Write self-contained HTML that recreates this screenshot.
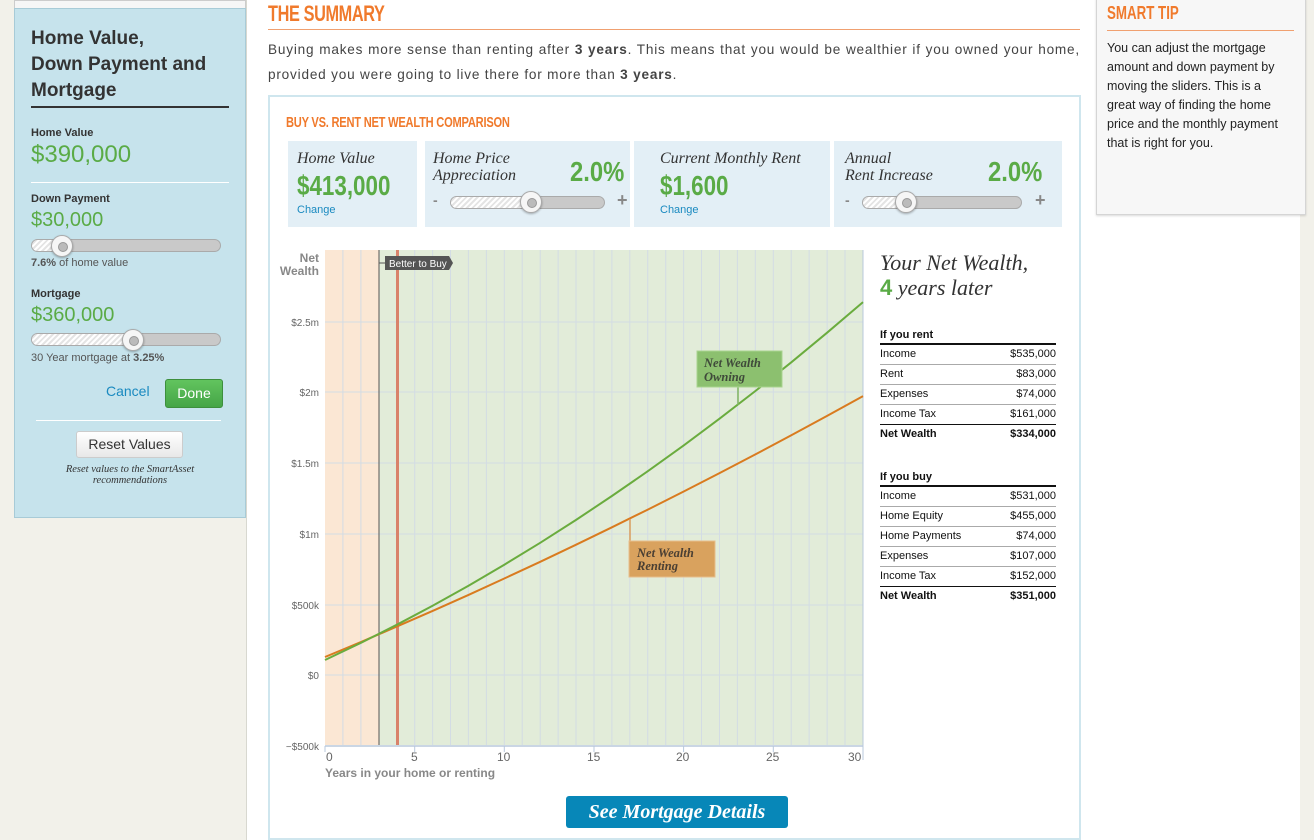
<!DOCTYPE html>
<html><head><meta charset="utf-8">
<style>
*{margin:0;padding:0;box-sizing:border-box}
body{width:1314px;height:840px;position:relative;background:#f2f1ea;font-family:"Liberation Sans",sans-serif;overflow:hidden;color:#333}
.a{position:absolute;white-space:nowrap}
.nar{transform-origin:0 0;transform:scaleX(0.74)}
.ser{font-family:"Liberation Serif",serif;font-style:italic}
.grn{color:#5aab46}
.lbl{font-size:11px;font-weight:bold;color:#333}
.slider{position:absolute;height:13px;border-radius:7px;background:#c9c9c9;border:1px solid #aaa;overflow:visible}
.hatch{position:absolute;left:0;top:0;bottom:0;border-radius:7px 0 0 7px;background:repeating-linear-gradient(135deg,#fff 0 2px,#e4e4e4 2px 4px)}
.knob{position:absolute;width:22px;height:22px;border-radius:50%;background:#f6f6f6;border:1px solid #aaa;top:-5px;box-shadow:0 1px 2px rgba(0,0,0,.3)}
.knob:after{content:"";position:absolute;left:6px;top:6px;width:8px;height:8px;border-radius:50%;background:#bbb;border:1px solid #999}
.card{position:absolute;top:141px;height:86px;background:#e3eff6}
.tbl{position:absolute;left:880px;width:176px;font-size:11px;color:#111}
.tbl .h{font-weight:bold;height:20px;line-height:20px;border-bottom:2px solid #111}
.tbl .r{height:20px;line-height:19px;border-bottom:1px solid #aaa;display:flex;justify-content:space-between}
.tbl .r.n{font-weight:bold;border-bottom:none;border-top:1px solid #111;margin-top:-1px}
</style></head><body>
<div class="a" style="left:246px;top:0;width:1054px;height:840px;background:#fff;border-left:1px solid #d8d8d0"></div>
<div class="a" style="left:14px;top:0;width:232px;height:8px;background:#f6f6f6;border:1px solid #ccc;border-bottom:none"></div>
<div class="a" style="left:14px;top:8px;width:232px;height:510px;background:#c6e3ec;border:1px solid #a8cbd7"></div>
<div class="a" style="left:31px;top:26px;font-size:19px;font-weight:bold;line-height:26px;color:#333">Home Value,<br>Down Payment and<br>Mortgage</div>
<div class="a" style="left:31px;top:106px;width:198px;height:2px;background:#333"></div>
<div class="a lbl" style="left:31px;top:127px">Home Value</div>
<div class="a grn" style="left:31px;top:141px;font-size:24px">$390,000</div>
<div class="a" style="left:31px;top:182px;width:198px;height:1px;background:#fff"></div>
<div class="a lbl" style="left:31px;top:193px">Down Payment</div>
<div class="a grn" style="left:31px;top:209px;font-size:20px">$30,000</div>
<div class="slider" style="left:31px;top:239px;width:190px"><div class="hatch" style="width:30px"></div><div class="knob" style="left:19px"></div></div>
<div class="a" style="left:31px;top:257px;font-size:11px;color:#555"><b>7.6%</b> of home value</div>
<div class="a lbl" style="left:31px;top:288px">Mortgage</div>
<div class="a grn" style="left:31px;top:304px;font-size:20px">$360,000</div>
<div class="slider" style="left:31px;top:333px;width:190px"><div class="hatch" style="width:100px"></div><div class="knob" style="left:90px"></div></div>
<div class="a" style="left:31px;top:352px;font-size:11px;color:#555">30 Year mortgage at <b>3.25%</b></div>
<div class="a" style="left:106px;top:383px;font-size:14px;color:#1a8ac0">Cancel</div>
<div class="a" style="left:165px;top:379px;width:58px;height:29px;background:linear-gradient(#62c45e,#45a547);border:1px solid #3d8f3d;border-radius:3px;color:#fff;font-size:14px;text-align:center;line-height:27px">Done</div>
<div class="a" style="left:36px;top:420px;width:185px;height:1px;background:#fff"></div>
<div class="a" style="left:76px;top:431px;width:107px;height:27px;background:linear-gradient(#fff,#e8e8e8);border:1px solid #ccc;border-radius:3px;font-size:14px;text-align:center;line-height:25px;color:#333">Reset Values</div>
<div class="a ser" style="left:30px;top:464px;width:200px;text-align:center;font-size:10.5px;line-height:11px;color:#333;white-space:normal">Reset values to the SmartAsset recommendations</div>

<div class="a nar" style="left:268px;top:1px;font-size:22px;font-weight:bold;color:#f07a2c;letter-spacing:-0.5px">THE SUMMARY</div>
<div class="a" style="left:268px;top:29px;width:812px;height:1px;background:#f0a070"></div>
<div class="a" style="left:268px;top:37px;width:812px;font-size:13.6px;letter-spacing:0.8px;line-height:25px;color:#444;white-space:normal;text-align:justify;text-align-last:left">Buying makes more sense than renting after <b>3 years</b>. This means that you would be wealthier if you owned your home, provided you were going to live there for more than <b>3 years</b>.</div>

<div class="a" style="left:268px;top:95px;width:813px;height:745px;border:2px solid #cfe6ee;background:#fff"></div>
<div class="a nar" style="left:286px;top:114px;font-size:15px;font-weight:bold;color:#f07a2c;letter-spacing:-0.3px">BUY VS. RENT NET WEALTH COMPARISON</div>

<div class="card" style="left:288px;width:129px"></div>
<div class="card" style="left:425px;width:205px"></div>
<div class="card" style="left:634px;width:196px"></div>
<div class="card" style="left:834px;width:228px"></div>
<div class="a ser" style="left:297px;top:150px;font-size:16px;color:#333">Home Value</div>
<div class="a nar grn" style="left:297px;top:170px;font-size:28px;font-weight:bold;transform:scaleX(0.8)">$413,000</div>
<div class="a" style="left:297px;top:204px;font-size:11px;color:#1a8ac0">Change</div>
<div class="a ser" style="left:433px;top:150px;font-size:16px;line-height:17px;color:#333">Home Price<br>Appreciation</div>
<div class="a nar grn" style="left:570px;top:156px;font-size:28px;font-weight:bold;transform:scaleX(0.85)">2.0%</div>
<div class="a" style="left:433px;top:192px;font-size:14px;font-weight:bold;color:#888">-</div>
<div class="slider" style="left:450px;top:196px;width:155px"><div class="hatch" style="width:80px"></div><div class="knob" style="left:69px;top:-6px"></div></div>
<div class="a" style="left:617px;top:190px;font-size:18px;font-weight:bold;color:#888">+</div>
<div class="a ser" style="left:660px;top:150px;font-size:16px;color:#333">Current Monthly Rent</div>
<div class="a nar grn" style="left:660px;top:170px;font-size:28px;font-weight:bold;transform:scaleX(0.8)">$1,600</div>
<div class="a" style="left:660px;top:204px;font-size:11px;color:#1a8ac0">Change</div>
<div class="a ser" style="left:845px;top:150px;font-size:16px;line-height:17px;color:#333">Annual<br>Rent Increase</div>
<div class="a nar grn" style="left:988px;top:156px;font-size:28px;font-weight:bold;transform:scaleX(0.85)">2.0%</div>
<div class="a" style="left:845px;top:192px;font-size:14px;font-weight:bold;color:#888">-</div>
<div class="slider" style="left:862px;top:196px;width:160px"><div class="hatch" style="width:40px"></div><div class="knob" style="left:32px;top:-6px"></div></div>
<div class="a" style="left:1035px;top:190px;font-size:18px;font-weight:bold;color:#888">+</div>

<svg class="a" style="left:0;top:0" width="1314" height="840" viewBox="0 0 1314 840">
<rect x="325" y="250" width="54" height="495" fill="#fbe7d4"/>
<rect x="379" y="250" width="484" height="495" fill="#e2ecd9"/>
<g stroke="#d3dce4" stroke-width="1">
<line x1="342.9" y1="250" x2="342.9" y2="745"/><line x1="360.9" y1="250" x2="360.9" y2="745"/><line x1="396.7" y1="250" x2="396.7" y2="745"/><line x1="414.7" y1="250" x2="414.7" y2="745"/><line x1="432.6" y1="250" x2="432.6" y2="745"/><line x1="450.5" y1="250" x2="450.5" y2="745"/><line x1="468.4" y1="250" x2="468.4" y2="745"/><line x1="486.4" y1="250" x2="486.4" y2="745"/><line x1="504.3" y1="250" x2="504.3" y2="745"/><line x1="522.2" y1="250" x2="522.2" y2="745"/><line x1="540.2" y1="250" x2="540.2" y2="745"/><line x1="558.1" y1="250" x2="558.1" y2="745"/><line x1="576" y1="250" x2="576" y2="745"/><line x1="594" y1="250" x2="594" y2="745"/><line x1="611.9" y1="250" x2="611.9" y2="745"/><line x1="629.8" y1="250" x2="629.8" y2="745"/><line x1="647.7" y1="250" x2="647.7" y2="745"/><line x1="665.7" y1="250" x2="665.7" y2="745"/><line x1="683.6" y1="250" x2="683.6" y2="745"/><line x1="701.5" y1="250" x2="701.5" y2="745"/><line x1="719.5" y1="250" x2="719.5" y2="745"/><line x1="737.4" y1="250" x2="737.4" y2="745"/><line x1="755.3" y1="250" x2="755.3" y2="745"/><line x1="773.3" y1="250" x2="773.3" y2="745"/><line x1="791.2" y1="250" x2="791.2" y2="745"/><line x1="809.1" y1="250" x2="809.1" y2="745"/><line x1="827.1" y1="250" x2="827.1" y2="745"/><line x1="845" y1="250" x2="845" y2="745"/>
<line x1="325" y1="322" x2="863" y2="322"/><line x1="325" y1="392" x2="863" y2="392"/><line x1="325" y1="463" x2="863" y2="463"/><line x1="325" y1="534" x2="863" y2="534"/><line x1="325" y1="605" x2="863" y2="605"/><line x1="325" y1="675" x2="863" y2="675"/>
</g>
<line x1="325" y1="746" x2="863" y2="746" stroke="#b8c8dc" stroke-width="1.5"/>
<line x1="863" y1="250" x2="863" y2="760" stroke="#b8c8dc"/>
<g stroke="#b8c8dc"><line x1="325" y1="746" x2="325" y2="752"/><line x1="414.7" y1="746" x2="414.7" y2="752"/><line x1="504.3" y1="746" x2="504.3" y2="752"/><line x1="594" y1="746" x2="594" y2="752"/><line x1="683.6" y1="746" x2="683.6" y2="752"/><line x1="773.3" y1="746" x2="773.3" y2="752"/></g>
<line x1="379" y1="250" x2="379" y2="745" stroke="#555" stroke-width="1"/>
<line x1="397.5" y1="250" x2="397.5" y2="745" stroke="#d9826a" stroke-width="3"/>
<line x1="379" y1="263" x2="385" y2="263" stroke="#555"/>
<path d="M385 256 H449 L453 263 L449 270 H385 Z" fill="#555"/>
<text x="389" y="267" font-family="Liberation Sans" font-size="10" fill="#fff">Better to Buy</text>
<polyline fill="none" stroke="#d97b1f" stroke-width="2" stroke-linejoin="round" points="325,657 360.9,642 396.7,626.6 432.6,610.9 468.5,594.9 504.3,578.5 540.2,561.8 576.1,544.7 611.9,527.3 647.8,509.6 683.7,491.5 719.5,473.1 755.4,454.4 791.3,435.3 827.1,415.9 863,396.1"/>
<polyline fill="none" stroke="#6aac3e" stroke-width="2" stroke-linejoin="round" points="325,660 360.9,642.9 396.7,624.8 432.6,605.7 468.5,585.7 504.3,564.7 540.2,542.8 576.1,519.9 611.9,496 647.8,471.2 683.7,445.4 719.5,418.7 755.4,391 791.3,362.3 827.1,332.7 863,302.1"/>
<line x1="738" y1="387" x2="738" y2="405" stroke="#7fb55f" stroke-width="1.5"/>
<rect x="697" y="351" width="85" height="36" fill="#8cc06f" stroke="#a9d38f"/>
<text x="704" y="367" font-family="Liberation Serif" font-style="italic" font-weight="bold" font-size="12.5" fill="#3f4a3a">Net Wealth</text>
<text x="704" y="381" font-family="Liberation Serif" font-style="italic" font-weight="bold" font-size="12.5" fill="#3f4a3a">Owning</text>
<line x1="630" y1="519" x2="630" y2="541" stroke="#d99c5c" stroke-width="1.5"/>
<rect x="629" y="541" width="86" height="36" fill="#d9a25e" stroke="#e8be8c"/>
<text x="637" y="557" font-family="Liberation Serif" font-style="italic" font-weight="bold" font-size="12.5" fill="#4a3f33">Net Wealth</text>
<text x="637" y="570" font-family="Liberation Serif" font-style="italic" font-weight="bold" font-size="12.5" fill="#4a3f33">Renting</text>
<g font-family="Liberation Sans" font-size="10" fill="#666" text-anchor="end">
<text x="319" y="326">$2.5m</text><text x="319" y="396">$2m</text><text x="319" y="467">$1.5m</text><text x="319" y="538">$1m</text><text x="319" y="609">$500k</text><text x="319" y="679">$0</text><text x="319" y="750">−$500k</text>
</g>
<g font-family="Liberation Sans" font-size="12" font-weight="bold" fill="#888" text-anchor="end"><text x="319" y="262">Net</text><text x="319" y="275">Wealth</text></g>
<g font-family="Liberation Sans" font-size="12" fill="#666">
<text x="326" y="761">0</text><text x="411" y="761">5</text><text x="497" y="761">10</text><text x="587" y="761">15</text><text x="676" y="761">20</text><text x="766" y="761">25</text><text x="848" y="761">30</text>
</g>
<text x="325" y="777" font-family="Liberation Sans" font-size="12" font-weight="bold" fill="#888">Years in your home or renting</text>
</svg>

<div class="a ser" style="left:880px;top:250px;font-size:22px;line-height:25px;color:#333">Your Net Wealth,<br><span style="font-family:'Liberation Sans',sans-serif;font-style:normal;font-weight:bold;color:#5aab46">4</span> years later</div>
<div class="tbl" style="top:325px">
<div class="h">If you rent</div>
<div class="r"><span>Income</span><span>$535,000</span></div>
<div class="r"><span>Rent</span><span>$83,000</span></div>
<div class="r"><span>Expenses</span><span>$74,000</span></div>
<div class="r"><span>Income Tax</span><span>$161,000</span></div>
<div class="r n"><span>Net Wealth</span><span>$334,000</span></div>
</div>
<div class="tbl" style="top:467px">
<div class="h">If you buy</div>
<div class="r"><span>Income</span><span>$531,000</span></div>
<div class="r"><span>Home Equity</span><span>$455,000</span></div>
<div class="r"><span>Home Payments</span><span>$74,000</span></div>
<div class="r"><span>Expenses</span><span>$107,000</span></div>
<div class="r"><span>Income Tax</span><span>$152,000</span></div>
<div class="r n"><span>Net Wealth</span><span>$351,000</span></div>
</div>

<div class="a ser" style="left:566px;top:796px;width:222px;height:32px;background:#0787b8;border-radius:3px;color:#fff;font-size:20px;font-weight:bold;text-align:center;line-height:32px">See Mortgage Details</div>

<div class="a" style="left:1096px;top:-2px;width:210px;height:217px;background:#f7f7f7;border:1px solid #d5d5d5;box-shadow:0 1px 2px rgba(0,0,0,.15)"></div>
<div class="a nar" style="left:1107px;top:3px;font-size:18px;font-weight:bold;color:#f07a2c">SMART TIP</div>
<div class="a" style="left:1107px;top:30px;width:187px;height:1px;background:#f0a070"></div>
<div class="a" style="left:1107px;top:39px;width:180px;font-size:12.5px;line-height:19px;color:#222;white-space:normal">You can adjust the mortgage amount and down payment by moving the sliders. This is a great way of finding the home price and the monthly payment that is right for you.</div>
</body></html>
